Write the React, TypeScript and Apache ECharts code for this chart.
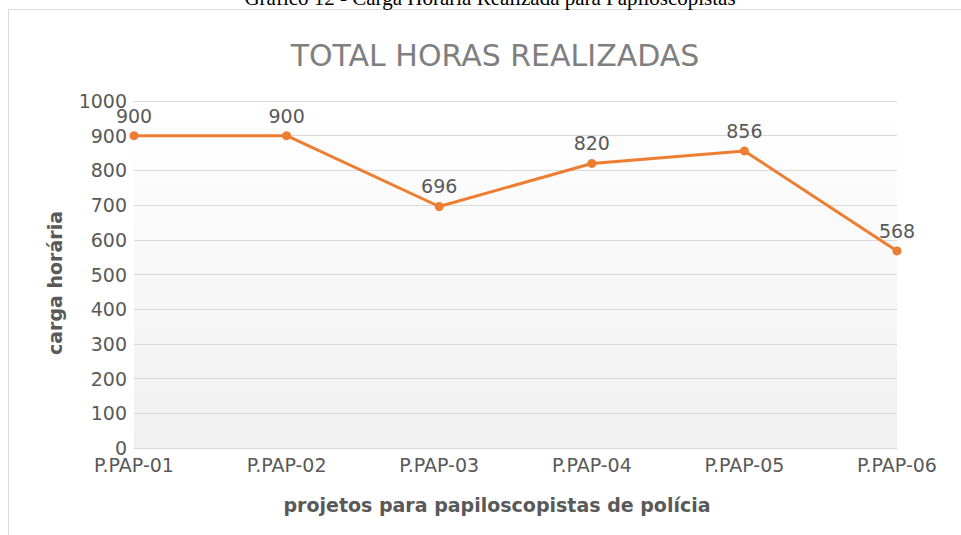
import React, { useEffect, useRef } from "react";
import * as echarts from "echarts";

const categories = ["P.PAP-01", "P.PAP-02", "P.PAP-03", "P.PAP-04", "P.PAP-05", "P.PAP-06"];
const horas = [900, 900, 696, 820, 856, 568];
const yTicks = { min: 0, max: 1000, interval: 100 };

const captionText = "Gráfico 12 - Carga Horária Realizada para Papiloscopistas";
const titleText = "TOTAL HORAS REALIZADAS";
const yName = "carga horária";
const xName = "projetos para papiloscopistas de polícia";

const LABEL = "#595959";
const GRID = "#d9d9d9";
const LINE = "#ED7D31";
const FONT = "DejaVu Sans";

export default function App() {
  const ref = useRef<HTMLDivElement>(null);
  useEffect(() => {
    if (!ref.current) return;
    const chart = echarts.init(ref.current, null, { renderer: "svg" });
    chart.setOption({
      animation: false,
      backgroundColor: "#ffffff",
      title: {
        text: titleText,
        left: 490,
        textAlign: "center",
        top: 35,
        textStyle: { fontFamily: FONT, fontSize: 30, fontWeight: "normal", color: "#7f7f7f" },
      },
      graphic: [
        {
          type: "rect",
          silent: true,
          shape: { x: 8.5, y: 9.5, width: 1000, height: 600 },
          style: { fill: "none", stroke: GRID, lineWidth: 1 },
          z: -1,
        },
        {
          type: "text",
          x: 490,
          y: -2,
          style: {
            text: captionText,
            fontFamily: "Liberation Serif",
            fontSize: 21,
            fill: "#000000",
            align: "center",
            verticalAlign: "middle",
          },
        },
        {
          type: "text",
          x: 55,
          y: 283,
          rotation: Math.PI / 2,
          style: {
            text: yName,
            fontFamily: FONT,
            fontSize: 19,
            fontWeight: "bold",
            fill: LABEL,
            align: "center",
            verticalAlign: "middle",
          },
        },
        {
          type: "text",
          x: 497,
          y: 505,
          style: {
            text: xName,
            fontFamily: FONT,
            fontSize: 19,
            fontWeight: "bold",
            fill: LABEL,
            align: "center",
            verticalAlign: "middle",
          },
        },
      ],
      grid: {
        left: 134,
        right: 64,
        top: 101,
        bottom: 87,
        show: true,
        borderWidth: 0,
        backgroundColor: new echarts.graphic.LinearGradient(0, 0, 0, 1, [
          { offset: 0, color: "#ffffff" },
          { offset: 1, color: "#f0f0f0" },
        ]),
      },
      xAxis: {
        type: "category",
        data: categories,
        boundaryGap: false,
        axisLine: { show: true, lineStyle: { color: GRID, width: 1 } },
        axisTick: { show: false },
        axisLabel: { fontFamily: FONT, fontSize: 19, color: LABEL, margin: 7 },
        splitLine: { show: false },
      },
      yAxis: {
        type: "value",
        min: yTicks.min,
        max: yTicks.max,
        interval: yTicks.interval,
        axisLine: { show: false },
        axisTick: { show: false },
        axisLabel: {
          fontFamily: FONT,
          fontSize: 19,
          color: LABEL,
          margin: 7,
          formatter: (v: number) => String(v),
        },
        splitLine: { lineStyle: { color: GRID, width: 1 } },
      },
      series: [
        {
          type: "line",
          data: horas,
          symbol: "circle",
          symbolSize: 9,
          lineStyle: { color: LINE, width: 3 },
          itemStyle: { color: LINE },
          label: {
            show: true,
            position: "top",
            distance: 6,
            fontFamily: FONT,
            fontSize: 19,
            color: LABEL,
          },
        },
      ],
    });
    return () => chart.dispose();
  }, []);
  return (
    <div
      ref={ref}
      style={{ position: "fixed", left: 0, top: 0, width: 961, height: 535 }}
    />
  );
}
